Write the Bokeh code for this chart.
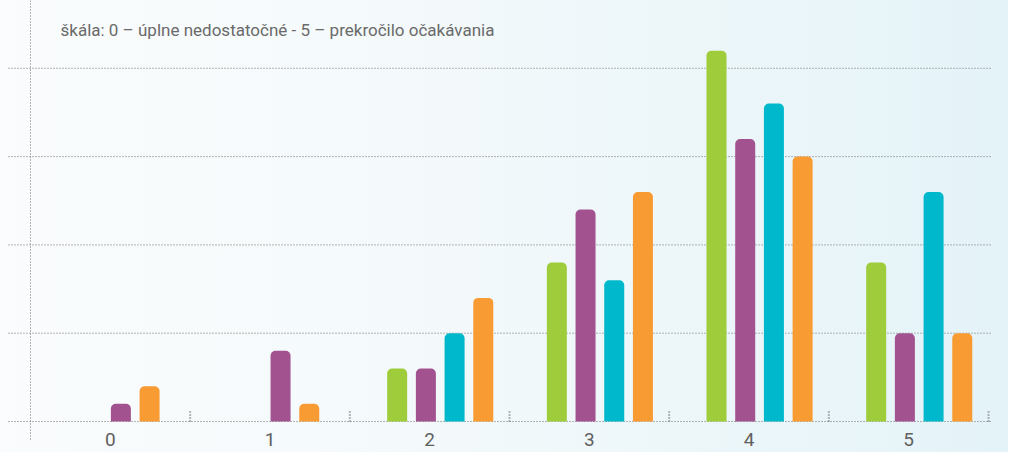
from bokeh.plotting import figure
from bokeh.models import Range1d, ColumnDataSource, Label
from bokeh.embed import file_html
from bokeh.resources import INLINE
from bokeh.core.properties import value

# ---- data ----
categories = ["0", "1", "2", "3", "4", "5"]
green = [0, 0, 3, 9, 21, 9]
purple = [1, 4, 3, 12, 16, 5]
cyan = [0, 0, 5, 8, 18, 13]
orange = [2, 1, 7, 13, 15, 5]
grid_values = [0, 5, 10, 15, 20]
title_text = "škála: 0 – úplne nedostatočné  -  5 – prekročilo očakávania"

series = [green, purple, cyan, orange]
colors = ["#9ecc3b", "#a2528f", "#00b8cc", "#f99b33"]

W, H = 1008, 452
PX_X = 159.67   # px per category
PX_Y = 17.66    # px per unit
x0 = -0.5 - 30 / PX_X
x1 = x0 + W / PX_X
y1 = 421 / PX_Y
y0 = y1 - H / PX_Y

p = figure(width=W, height=H, output_backend="svg", toolbar_location=None,
           x_range=Range1d(x0, x1), y_range=Range1d(y0, y1),
           x_axis_location=None, y_axis_location=None,
           min_border=0, background_fill_color=None, border_fill_color=None,
           outline_line_color=None)
p.grid.visible = False
p.styles = {"background-image": "linear-gradient(to right, #fafcfd 0%, #f3f9fb 45%, #e4f3f8 100%)"}

dot_color = "#6e6e6e"
# horizontal dotted grid lines
gx0 = -0.5 - 22 / PX_X
gx1 = 5.5 + 2 / PX_X
p.segment(x0=[gx0] * len(grid_values), x1=[gx1] * len(grid_values),
          y0=grid_values, y1=grid_values, line_color=dot_color,
          line_dash="1 2", line_width=1)
# vertical axis line
p.segment(x0=[-0.5], x1=[-0.5], y0=[y1], y1=[-19 / PX_Y],
          line_color=dot_color, line_dash="1 2", line_width=1)
# category boundary ticks
bounds = [i + 0.5 for i in range(len(categories))]
p.segment(x0=bounds, x1=bounds, y0=[0] * len(bounds), y1=[12 / PX_Y] * len(bounds),
          line_color=dot_color, line_dash="1 2", line_width=2)

# bars
bw = 20 / PX_X
sp = 28.7 / PX_X
first = -32.5 / PX_X
xs, tops, cols = [], [], []
for i in range(len(categories)):
    nz = [s for s in range(len(series)) if series[s][i] > 0]
    k = len(nz)
    for j, s in enumerate(nz):
        slot = j + (len(series) - k) * 0.75
        xs.append(i + first + sp * slot)
        tops.append(series[s][i])
        cols.append(colors[s])
src = ColumnDataSource(dict(x=xs, top=tops, color=cols))
p.vbar(x="x", top="top", bottom=0, width=bw, fill_color="color",
       line_color=None, border_radius=[5, 5, 0, 0], source=src)

# category labels
p.text(x=list(range(len(categories))), y=[-18 / PX_Y] * len(categories), text=categories,
       text_font=value("Roboto"), text_font_size="19px",
       text_color="#606060", text_align="center", text_baseline="middle")

p.add_layout(Label(x=60, y=H - 29, x_units="screen", y_units="screen", text=title_text,
                   text_font="Roboto", text_font_size="17px",
                   text_color="#6a6a6a", text_baseline="alphabetic"))

open("out.html", "w").write(file_html(p, INLINE))
